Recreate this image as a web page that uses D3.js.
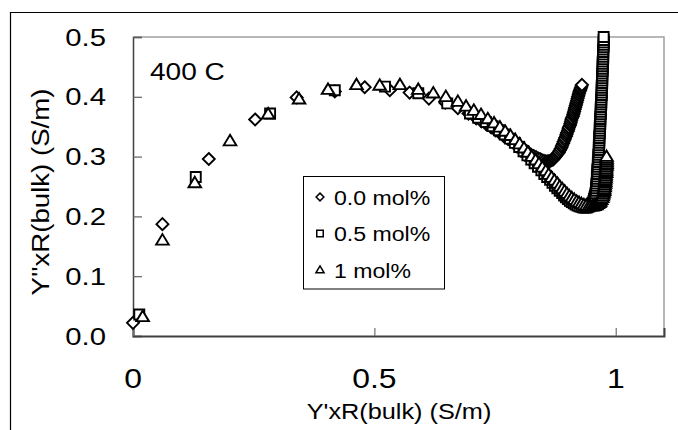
<!DOCTYPE html>
<html><head><meta charset="utf-8">
<script src="https://cdn.jsdelivr.net/npm/d3@7/dist/d3.min.js"></script>
<style>html,body{margin:0;padding:0;background:#fff;}svg{display:block;font-family:"Liberation Sans",Arial,sans-serif;}</style>
</head><body>
<svg id="chart" width="678" height="430"></svg>
<script>
// ---- data ----
const seriesNames = ["0.0 mol%", "0.5 mol%", "1 mol%"];
const xTicks = [0, 0.5, 1];
const xTickLabels = ["0", "0.5", "1"];
const yTicks = [0, 0.1, 0.2, 0.3, 0.4, 0.5];
const yTickLabels = ["0.0", "0.1", "0.2", "0.3", "0.4", "0.5"];
const xTitle = "Y'xR(bulk) (S/m)";
const yTitle = "Y''xR(bulk) (S/m)";
const annotation = "400 C";

// 0.0 mol% (diamonds): [Y', Y'']
const s0 = [[0.000,0.022],[0.061,0.187],[0.157,0.296],[0.253,0.362],[0.339,0.399],[0.418,0.409],[0.480,0.416],
  [0.532,0.411],[0.573,0.407],[0.613,0.397],[0.647,0.390],[0.673,0.381],[0.695,0.372],[0.711,0.364],
  [0.722,0.359],[0.732,0.354],[0.742,0.349],[0.751,0.344],[0.760,0.339],[0.768,0.334],[0.776,0.330],[0.783,0.326],
  [0.790,0.322],[0.797,0.318],[0.803,0.315],[0.809,0.312],[0.815,0.309],[0.820,0.306],[0.825,0.303],[0.830,0.301],
  [0.835,0.299],[0.839,0.297],[0.843,0.296],[0.847,0.294],[0.851,0.293],[0.855,0.292],[0.858,0.292],[0.861,0.292],
  [0.864,0.293],[0.867,0.294],[0.870,0.295],[0.872,0.297],[0.874,0.299],[0.876,0.301],[0.878,0.303],[0.880,0.305],
  [0.882,0.307],[0.884,0.310],[0.886,0.313],[0.888,0.316],[0.889,0.319],[0.891,0.322],[0.892,0.325],[0.894,0.328],
  [0.895,0.331],[0.897,0.334],[0.898,0.337],[0.899,0.340],[0.901,0.343],[0.902,0.346],[0.903,0.349],[0.905,0.352],
  [0.906,0.355],[0.907,0.358],[0.908,0.361],[0.909,0.364],[0.911,0.367],[0.912,0.370],[0.913,0.373],[0.914,0.376],
  [0.915,0.379],[0.916,0.382],[0.917,0.385],[0.918,0.388],[0.919,0.391],[0.920,0.394],[0.921,0.397],[0.922,0.400],
  [0.923,0.403],[0.924,0.406],[0.925,0.409],[0.926,0.411],[0.927,0.413],[0.928,0.415],[0.929,0.418],[0.930,0.420]];

// 0.5 mol% (squares)
const s1 = [[0.013,0.036],[0.130,0.266],[0.284,0.372],[0.418,0.411],[0.522,0.417],[0.591,0.406],[0.651,0.389],[0.698,0.372],
  [0.715,0.365],[0.731,0.358],[0.745,0.351],[0.758,0.344],[0.770,0.337],[0.781,0.330],[0.791,0.323],[0.800,0.316],
  [0.809,0.309],[0.817,0.302],[0.825,0.295],[0.832,0.289],[0.839,0.283],[0.846,0.277],[0.852,0.271],[0.858,0.266],
  [0.864,0.261],[0.869,0.256],[0.874,0.251],[0.879,0.247],[0.884,0.243],[0.889,0.239],[0.893,0.235],[0.897,0.232],
  [0.901,0.229],[0.905,0.226],[0.909,0.224],[0.913,0.222],[0.917,0.220],[0.921,0.218],[0.925,0.217],[0.929,0.216],
  [0.933,0.215],[0.937,0.215],[0.940,0.215],[0.943,0.216],[0.946,0.217],[0.948,0.219],[0.950,0.221],[0.952,0.223],
  [0.954,0.226],[0.955,0.229],[0.956,0.232],[0.957,0.235],
  [0.958,0.239],[0.959,0.243],[0.959,0.247],[0.960,0.251],[0.960,0.255],[0.961,0.259],[0.961,0.263],[0.961,0.267],
  [0.962,0.271],[0.962,0.275],[0.962,0.279],[0.963,0.283],[0.963,0.287],[0.963,0.291],[0.964,0.295],[0.964,0.299],
  [0.964,0.303],[0.965,0.307],[0.965,0.311],[0.965,0.315],[0.965,0.319],[0.966,0.323],[0.966,0.327],[0.966,0.331],
  [0.966,0.335],[0.967,0.339],[0.967,0.343],[0.967,0.347],[0.967,0.351],[0.968,0.355],[0.968,0.359],[0.968,0.363],
  [0.968,0.367],[0.969,0.371],[0.969,0.375],[0.969,0.379],[0.969,0.383],[0.970,0.387],[0.970,0.391],[0.970,0.395],
  [0.970,0.399],[0.971,0.403],[0.971,0.407],[0.971,0.411],[0.971,0.415],[0.971,0.419],[0.972,0.423],[0.972,0.427],
  [0.972,0.431],[0.972,0.435],[0.972,0.439],[0.973,0.443],[0.973,0.447],[0.973,0.451],[0.973,0.455],[0.973,0.459],
  [0.974,0.463],[0.974,0.467],[0.974,0.471],[0.974,0.475],[0.974,0.479],[0.975,0.483],[0.975,0.487],[0.975,0.491],
  [0.975,0.495],[0.975,0.500]];

// 1 mol% (triangles)
const s2 = [[0.020,0.032],[0.061,0.160],[0.128,0.256],[0.201,0.326],[0.280,0.371],[0.344,0.396],[0.404,0.412],
  [0.463,0.420],[0.511,0.419],[0.553,0.420],[0.591,0.412],[0.622,0.406],[0.648,0.400],[0.673,0.392],
  [0.690,0.384],[0.706,0.377],[0.721,0.370],[0.735,0.363],[0.748,0.356],[0.760,0.349],[0.771,0.342],[0.782,0.335],
  [0.792,0.328],[0.801,0.321],[0.810,0.314],[0.818,0.307],[0.826,0.300],[0.834,0.294],[0.841,0.288],[0.848,0.282],
  [0.855,0.276],[0.861,0.270],[0.867,0.265],[0.873,0.260],[0.879,0.255],[0.884,0.250],[0.889,0.246],[0.894,0.242],
  [0.899,0.238],[0.904,0.234],[0.909,0.231],[0.914,0.228],[0.919,0.225],[0.924,0.223],[0.929,0.221],[0.934,0.219],
  [0.939,0.218],[0.944,0.217],[0.948,0.217],[0.952,0.217],[0.956,0.218],[0.960,0.219],[0.963,0.221],[0.966,0.223],
  [0.968,0.225],[0.970,0.228],[0.972,0.231],[0.973,0.234],[0.974,0.237],[0.975,0.240],[0.976,0.243],[0.976,0.246],
  [0.977,0.249],[0.977,0.252],[0.978,0.255],[0.978,0.258],[0.978,0.261],[0.979,0.264],[0.979,0.267],[0.979,0.270],
  [0.980,0.273],[0.980,0.276],[0.980,0.279],[0.980,0.282],[0.981,0.285],[0.981,0.288],[0.981,0.291],[0.981,0.294],
  [0.981,0.297],[0.981,0.300]];

const seriesData = [s0, s1, s2];
const xDomain = [0, 1.1];
const yDomain = [0, 0.5];

// ---- layout ----
const svg = d3.select("#chart");
const L = 133, R = 664, T = 37, B = 336;
const x = d3.scaleLinear().domain(xDomain).range([L, R]);
const y = d3.scaleLinear().domain(yDomain).range([B, T]);

// outer frame
svg.append("path").attr("d", "M10.5,430 L10.5,12.5 L678,12.5")
  .attr("fill", "none").attr("stroke", "#000").attr("stroke-width", 1.2);

// plot border (top/right light gray)
svg.append("path").attr("d", `M${L},${T} L${R},${T} L${R},${B}`)
  .attr("fill", "none").attr("stroke", "#a0a0a0").attr("stroke-width", 1.5);

// axes
const yAxis = d3.axisLeft(y).tickValues(yTicks).tickSize(-9).tickFormat("");
const xAxis = d3.axisBottom(x).tickValues(xTicks).tickSize(-8).tickFormat("");
const gy = svg.append("g").attr("transform", `translate(${L},0)`).call(yAxis);
const gx = svg.append("g").attr("transform", `translate(0,${B})`).call(xAxis);
gy.select(".domain").attr("stroke", "#404040").attr("stroke-width", 1.5);
gx.select(".domain").attr("stroke", "#404040").attr("stroke-width", 2);
gy.selectAll(".tick line").attr("stroke", "#606060").attr("stroke-width", 1.2);
gx.selectAll(".tick line").attr("stroke", "#707070").attr("stroke-width", 1.2);

function stext(parent, px, py, str, size, sx, anchor, rot) {
  const g = parent.append("g").attr("transform", `translate(${px},${py})` + (rot ? ` rotate(${rot})` : "") + ` scale(${sx},1)`);
  g.append("text").attr("text-anchor", anchor).attr("font-size", size).attr("fill", "#000").text(str);
  return g;
}

// tick labels
yTicks.forEach((v, i) => stext(svg, 106, y(v) + 8.5, yTickLabels[i], 24, 1.22, "end"));
xTicks.forEach((v, i) => stext(svg, x(v), 388, xTickLabels[i], 27, 1.18, "middle"));

// titles
stext(svg, 399, 419, xTitle, 22, 1.15, "middle");
stext(svg, 49, 192, yTitle, 24, 1.15, "middle", -90);
stext(svg, 150, 80, annotation, 23, 1.22, "start");

// markers
function markerPath(i, s) {
  if (i === 0) { const r = 6 * s; return `M0,${-r}L${r},0L0,${r}L${-r},0Z`; }
  if (i === 1) { const h = 5 * s; return `M${-h},${-h}L${h},${-h}L${h},${h}L${-h},${h}Z`; }
  const w = 6.3 * s, t = 6.2 * s, b = 4.3 * s; return `M0,${-t}L${w},${b}L${-w},${b}Z`;
}

seriesData.forEach((pts, si) => {
  svg.append("g").selectAll("path").data(pts).join("path")
    .attr("transform", d => `translate(${x(d[0])},${y(d[1])})`)
    .attr("d", markerPath(si, 1))
    .attr("fill", "#fff").attr("stroke", "#000").attr("stroke-width", 1.9);
});

// legend
const lg = svg.append("g");
lg.append("rect").attr("x", 303.5).attr("y", 176.5).attr("width", 141).attr("height", 112.5)
  .attr("fill", "#fff").attr("stroke", "#000").attr("stroke-width", 1);
const rowY = [197, 233.5, 270];
seriesNames.forEach((n, i) => {
  lg.append("path").attr("transform", `translate(320,${rowY[i]})`).attr("d", markerPath(i, 0.65))
    .attr("fill", "#fff").attr("stroke", "#000").attr("stroke-width", 1.5);
  stext(lg, 334, rowY[i] + 7.5, n, 21, 1.1, "start");
});
</script>
</body></html>
